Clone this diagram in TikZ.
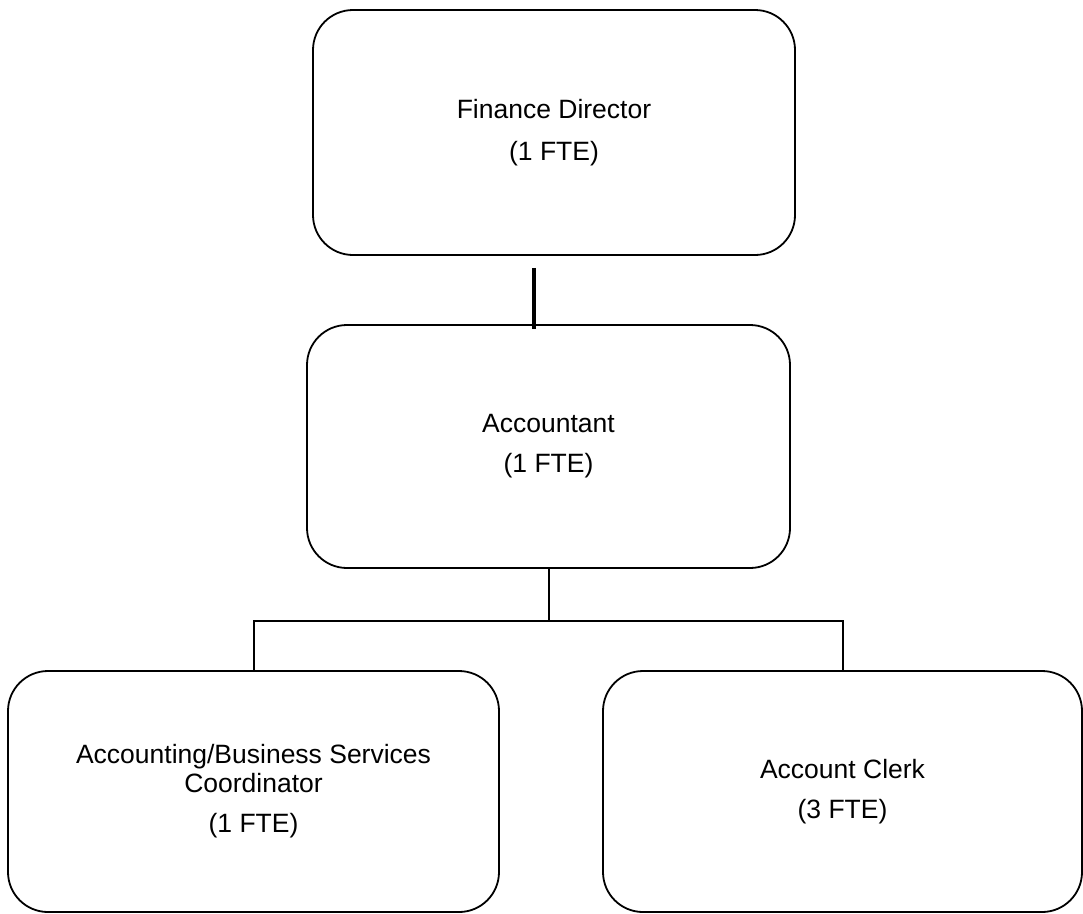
\documentclass[tikz,border=0pt]{standalone}
\usepackage{fontspec}
\setmainfont{Liberation Sans}
\begin{document}
\begin{tikzpicture}[x=1pt,y=-1pt,
  box/.style={draw=black, line width=1.8pt, rounded corners=40pt, align=center,
    font=\fontsize{26.5}{29}\selectfont, inner sep=0pt},
  link/.style={draw=black, line width=2pt},
  thicklink/.style={draw=black, line width=3.6pt}]
\useasboundingbox (0,0) rectangle (1083,913);
\node[box, minimum width=482pt, minimum height=245pt] (fd) at (554,132.5)
  {Finance Director\\[13pt](1 FTE)};
\node[box, minimum width=483pt, minimum height=243pt] (acc) at (548.5,446.5)
  {Accountant\\[11pt](1 FTE)};
\node[box, minimum width=491pt, minimum height=241pt] (abs) at (253.5,791.5)
  {Accounting/Business Services\\Coordinator\\[11pt](1 FTE)};
\node[box, minimum width=479pt, minimum height=241pt] (clerk) at (842.5,791.5)
  {Account Clerk\\[11pt](3 FTE)};
\coordinate (t1) at ([xshift=-20pt,yshift=-12pt]fd.south);
\coordinate (t2) at ([xshift=-14.5pt,yshift=-5pt]acc.north);
\draw[thicklink] (t1) -- (t2);
\draw[link] (acc.south) -- ++(0,52) coordinate (j);
\draw[link] (abs.north) |- (j) -| (clerk.north);
\end{tikzpicture}
\end{document}
